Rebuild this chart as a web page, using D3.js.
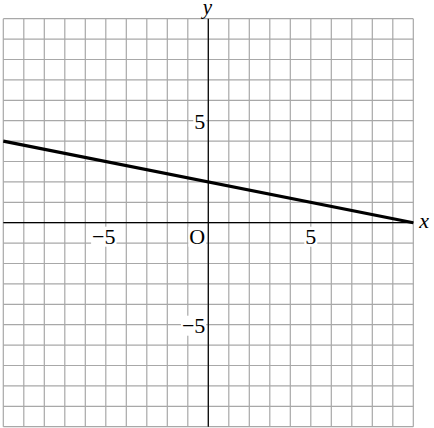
<!DOCTYPE html>
<html><head><meta charset="utf-8">
<script src="https://cdn.jsdelivr.net/npm/d3@7"></script>
<style>html,body{margin:0;padding:0;background:#fff;}svg{display:block;}</style>
</head><body>
<script>
const xDomain = [-10, 10];
const yDomain = [-10, 10];
const gridValues = d3.range(-10, 11, 1);
const xTickLabels = [{v: -5, t: "\u22125"}, {v: 5, t: "5"}];
const yTickLabels = [{v: 5, t: "5"}, {v: -5, t: "\u22125"}];
const lineX = [-10, 10];
const lineY = [4, 0];

const W = 434, H = 428;
const x = d3.scaleLinear().domain(xDomain).range([3.3, 413.3]);
const y = d3.scaleLinear().domain(yDomain).range([426.7, 18.7]);

const svg = d3.select("body").append("svg").attr("width", W).attr("height", H);
const font = "'Liberation Serif', 'DejaVu Serif', serif";

const g = svg.append("g");
g.selectAll("line.v").data(gridValues).join("line")
  .attr("x1", d => x(d)).attr("x2", d => x(d))
  .attr("y1", y(10)).attr("y2", y(-10))
  .attr("stroke", "#a8a8a8").attr("stroke-width", 1.2);
g.selectAll("line.h").data(gridValues).join("line")
  .attr("y1", d => y(d)).attr("y2", d => y(d))
  .attr("x1", x(-10)).attr("x2", x(10))
  .attr("stroke", "#a8a8a8").attr("stroke-width", 1.2);

// axes
svg.append("line").attr("x1", x(-10)).attr("x2", x(10)).attr("y1", y(0)).attr("y2", y(0))
  .attr("stroke", "#000").attr("stroke-width", 1.2);
svg.append("line").attr("x1", x(0)).attr("x2", x(0)).attr("y1", y(10)).attr("y2", y(-10))
  .attr("stroke", "#000").attr("stroke-width", 1.2);

function label(tx, ty, text, anchor, italic, size) {
  return svg.append("text").attr("x", tx).attr("y", ty)
    .attr("text-anchor", anchor).attr("font-family", font).attr("font-size", size || 22)
    .attr("font-style", italic ? "italic" : "normal").text(text);
}
function bgLabel(tx, ty, text, anchor) {
  const t = label(tx, ty, text, anchor, false);
  const b = t.node().getBBox();
  svg.insert("rect", "text").attr("x", b.x - 1).attr("y", b.y + 3).attr("width", b.width + 2).attr("height", b.height - 5)
    .attr("fill", "#fff");
}
xTickLabels.forEach(d => bgLabel(x(d.v) - (d.v < 0 ? 2 : 0), y(0) + 21, d.t, "middle"));
yTickLabels.forEach(d => bgLabel(x(0) - 3, y(d.v) + 8, d.t, "end"));
bgLabel(x(0) - 11, y(0) + 21, "O", "middle");

svg.append("line")
  .attr("x1", x(lineX[0])).attr("y1", y(lineY[0]))
  .attr("x2", x(lineX[1])).attr("y2", y(lineY[1]))
  .attr("stroke", "#000").attr("stroke-width", 3.2).attr("stroke-linecap", "butt");

label(x(10) + 6, y(0) + 5, "x", "start", true);
label(x(0) - 1, 14, "y", "middle", true, 21);
</script>
</body></html>
